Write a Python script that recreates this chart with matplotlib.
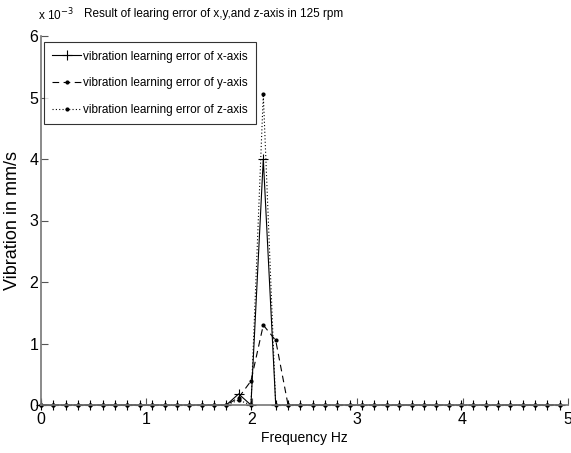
import matplotlib
matplotlib.use("Agg")
import matplotlib.pyplot as plt

plt.rcParams['font.family'] = ['Liberation Sans', 'DejaVu Sans']

freq = [0.000, 0.117, 0.234, 0.352, 0.469, 0.586, 0.703, 0.820, 0.938, 1.055,
        1.172, 1.289, 1.406, 1.523, 1.641, 1.758, 1.875, 1.992, 2.109, 2.227,
        2.344, 2.461, 2.578, 2.695, 2.813, 2.930, 3.047, 3.164, 3.281, 3.398,
        3.516, 3.633, 3.750, 3.867, 3.984, 4.102, 4.219, 4.336, 4.453, 4.570,
        4.688, 4.805, 4.922]
# values in units of 1e-3 mm/s
err_x = [0]*16 + [0.18, 0.0, 4.00, 0.0] + [0]*23
err_y = [0]*16 + [0.12, 0.39, 1.30, 1.05] + [0]*23
err_z = [0]*16 + [0.08, 0.0, 5.05, 0.0] + [0]*23

labels = ['vibration learning error of x-axis',
          'vibration learning error of y-axis',
          'vibration learning error of z-axis']
title = 'Result of learing error of x,y,and z-axis in 125 rpm'

fig = plt.figure(figsize=(5.71, 4.53), dpi=100)
ax = fig.add_axes([41/571, 48/453, 527/571, 369/453])

ax.plot(freq, err_x, color='black', lw=0.8, ls='-', marker='+', ms=7, mew=0.8,
        label=labels[0], clip_on=False)
ax.plot(freq, err_y, color='black', lw=0.8, ls=(0, (6, 4)), marker='.', ms=4,
        label=labels[1], clip_on=False)
ax.plot(freq, err_z, color='black', lw=0.8, ls=(0, (1, 2)), marker='.', ms=4,
        label=labels[2], clip_on=False)

ax.set_xlim(0, 5)
ax.set_ylim(0, 6)
ax.set_xticks([0, 1, 2, 3, 4, 5])
ax.set_yticks([0, 1, 2, 3, 4, 5, 6])
ax.tick_params(direction='in', length=5, width=0.8, labelsize=11.5, pad=2, color='#555555')
ax.tick_params(axis='x', pad=5)
for s in ['top', 'right']:
    ax.spines[s].set_visible(False)
for s in ['left', 'bottom']:
    ax.spines[s].set_color('#777777')
    ax.spines[s].set_linewidth(1.2)

ax.set_xlabel('Frequency Hz', fontsize=10, labelpad=3)
ax.set_ylabel('Vibration in mm/s', fontsize=13, labelpad=6)
ax.set_title(title, fontsize=8.5, pad=14, x=0.328)
fig.text(38/571, 1 - 15/453, r'x 10$^{-3}$', fontsize=8.5, va='center')

leg = ax.legend(loc='upper left', bbox_to_anchor=(0.005, 0.983), fontsize=8.5,
                frameon=True, fancybox=False, edgecolor='black', handlelength=2.5,
                handletextpad=0.15, borderpad=0.7, labelspacing=1.25, borderaxespad=0)
leg.get_frame().set_linewidth(0.8)

fig.savefig('out.png', dpi=100)
